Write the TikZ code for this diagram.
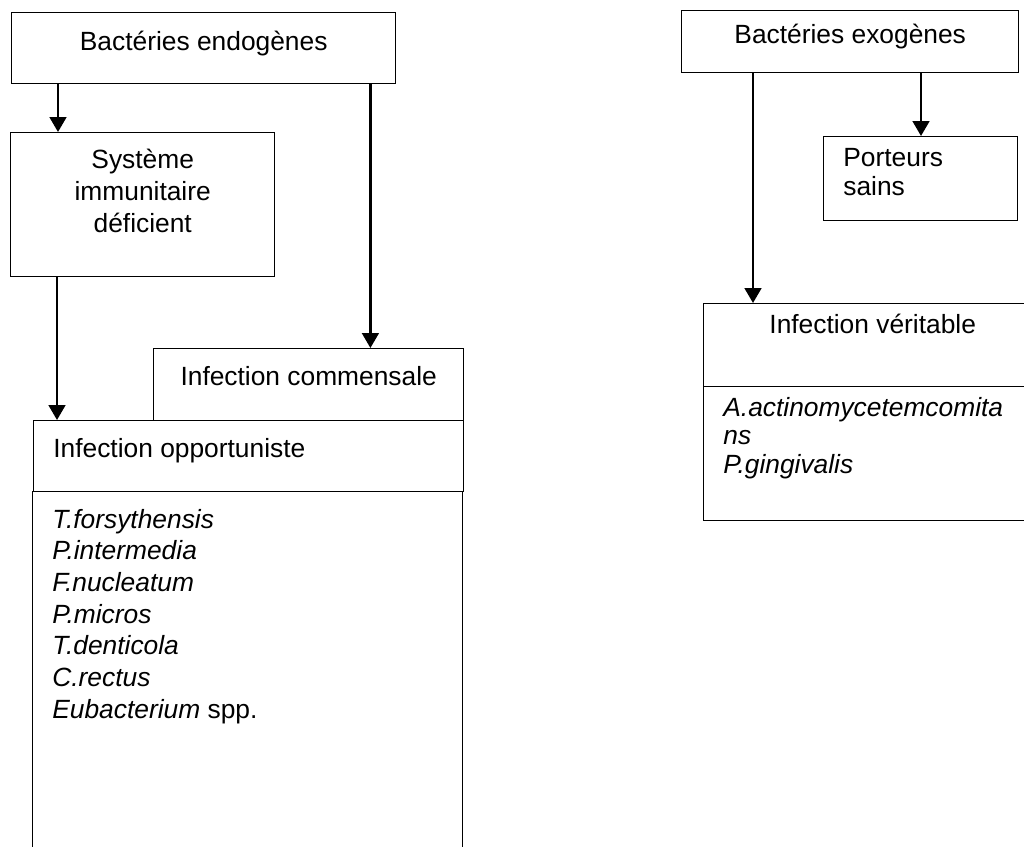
\documentclass[tikz,border=0pt]{standalone}
\usepackage{fontspec}
\setmainfont{Liberation Sans}
\usetikzlibrary{arrows.meta,positioning}

\newdimen\px \px=0.02cm

\tikzset{
    box/.style={draw,line width=0.8pt,inner sep=0,anchor=north west},
    txt/.style={inner sep=0,font=\fontsize{15}{18}\selectfont},
    txtright/.style={inner sep=0,font=\fontsize{15}{16}\selectfont},
    arr/.style={line width=1.4pt,-{Triangle[length=8.5pt,width=9.5pt]}},
}

\begin{document}
\begin{tikzpicture}[x=1\px,y=-1\px]

        % -----------
        % Frame.
        % -----------
        \useasboundingbox(0,0)rectangle(1024,846);
        \clip(0,0)rectangle(1024,846);

        % --------
        % Left part: endogenous bacteria.
        % (multi-line texts sit on the baseline of their last line)
        % --------

        % Endogenous bacteria.
        \node[box,minimum width=384\px,minimum height=71\px](endo)at(11,12){};
        \node[txt,anchor=base](endoText)at([yshift=-38\px]endo.north){Bactéries endogènes};

        % Deficient immune system.
        \node[box,minimum width=264\px,minimum height=144\px](immun)at(10,132){};
        \node[txt,anchor=base,align=center](immunText)at([yshift=-100\px]immun.north){Système\\immunitaire\\déficient};

        % Commensal infection.
        \node[box,minimum width=310\px,minimum height=72\px](comm)at(153,348){};
        \node[txt,anchor=base](commText)at([yshift=-37\px]comm.north){Infection commensale};

        % Opportunistic infection.
        \node[box,minimum width=430\px,minimum height=71\px](opp)at(33,420){};
        \node[txt,anchor=base west](oppText)at([xshift=20\px,yshift=-37\px]opp.north west){Infection opportuniste};

        % Opportunistic species (box runs past the bottom).
        \node[box,minimum width=430\px,minimum height=420\px](oppList)at(32,491){};
        \node[txt,anchor=base west,align=left](oppListText)at([xshift=20\px,yshift=-227\px]oppList.north west){%
            \textit{T.forsythensis}\\\textit{P.intermedia}\\\textit{F.nucleatum}\\\textit{P.micros}\\%
            \textit{T.denticola}\\\textit{C.rectus}\\\textit{Eubacterium} spp.};

        % Arrows.
        \draw[arr]([xshift=47\px]endo.south west)--([xshift=47\px]endo.south west|-immun.north);
        \draw[arr]([xshift=47\px]immun.south west)--([xshift=47\px]immun.south west|-opp.north);
        \draw[arr]([xshift=-26\px]endo.south east)--([xshift=-26\px]endo.south east|-comm.north);

        % --------
        % Right part: exogenous bacteria.
        % --------

        % Exogenous bacteria.
        \node[box,minimum width=337\px,minimum height=62\px](exo)at(681,10){};
        \node[txt,anchor=base](exoText)at([yshift=-33\px]exo.north){Bactéries exogènes};

        % Healthy carriers.
        \node[box,minimum width=194\px,minimum height=84\px](carrier)at(823,136){};
        \node[txtright,anchor=base west,align=left](carrierText)at([xshift=20\px,yshift=-59\px]carrier.north west){Porteurs\\sains};

        % True infection (box runs past the right side).
        \node[box,minimum width=338\px,minimum height=83\px](true)at(703,303){};
        \node[txt,anchor=base](trueText)at([yshift=-30\px]true.north){Infection véritable};

        % True infection species.
        \node[box,minimum width=338\px,minimum height=134\px](trueList)at(703,386){};
        \node[txtright,anchor=base west,align=left](trueListText)at([xshift=20\px,yshift=-87\px]trueList.north west){%
            \textit{A.actinomycetemcomita}\\\textit{ns}\\\textit{P.gingivalis}};

        % Arrows.
        \draw[arr]([xshift=72\px]exo.south west)--([xshift=72\px]exo.south west|-true.north);
        \draw[arr]([xshift=240\px]exo.south west)--([xshift=240\px]exo.south west|-carrier.north);

    \end{tikzpicture}
\end{document}
